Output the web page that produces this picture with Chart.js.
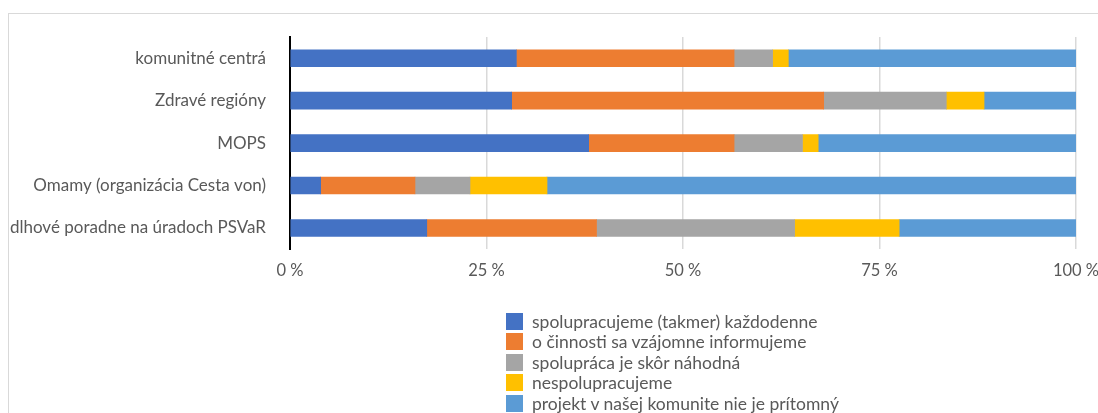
<!DOCTYPE html>
<html>
<head>
<meta charset="utf-8">
<script src="https://cdn.jsdelivr.net/npm/chart.js@4"></script>
<style>
  body { margin: 0; background: #fff; overflow: hidden; }
  #frame { position: absolute; left: 8px; top: 13px; width: 1200px; height: 500px; border-left: 1px solid #d9d9d9; border-top: 1px solid #d9d9d9; }
  #wrap { position: absolute; left: 0; top: 0; width: 1120px; height: 413px; }
  #legend { position: absolute; left: 506px; top: 311px; font-family: Lato, sans-serif; font-size: 17.5px; color: #595959; }
  .item { height: 20.5px; display: flex; align-items: center; white-space: nowrap; }
  .box { width: 17px; height: 17px; margin-right: 9px; }
</style>
</head>
<body>
<div id="frame"></div>
<div id="wrap"><canvas id="myChart"></canvas></div>
<div id="legend"></div>
<script>
const categories = ["komunitné centrá", "Zdravé regióny", "MOPS", "Omamy (organizácia Cesta von)", "dlhové poradne na úradoch PSVaR"];
const seriesNames = ["spolupracujeme (takmer) každodenne", "o činnosti sa vzájomne informujeme", "spolupráca je skôr náhodná", "nespolupracujeme", "projekt v našej komunite nie je prítomný"];
const dailyValues = [28.8, 28.2, 38.0, 3.9, 17.4];
const informValues = [27.7, 39.7, 18.5, 12.0, 21.6];
const randomValues = [4.9, 15.6, 8.7, 7.0, 25.2];
const noneValues = [2.0, 4.8, 2.0, 9.8, 13.3];
const absentValues = [36.6, 11.7, 32.8, 67.3, 22.5];
const tickValues = [0, 25, 50, 75, 100];
const colors = ["#4472C4", "#ED7D31", "#A5A5A5", "#FFC000", "#5B9BD5"];

const allValues = [dailyValues, informValues, randomValues, noneValues, absentValues];
const datasets = [];
for (let i = 0; i < seriesNames.length; i++) {
    datasets.push({
        label: seriesNames[i],
        data: allValues[i],
        backgroundColor: colors[i],
        borderWidth: 0,
        barThickness: 17
    });
}

// legend in one column, built from the datasets
const legend = document.getElementById("legend");
for (let i = 0; i < datasets.length; i++) {
    let skeleton = "<div class='item'>";
    skeleton += "<div class='box' style='background:" + datasets[i].backgroundColor + "'></div>";
    skeleton += "<span>" + datasets[i].label + "</span>";
    skeleton += "</div>";
    legend.innerHTML += skeleton;
}

const textColor = "#595959";
const myChart = new Chart("myChart", {
    type: "bar",
    data: {
        labels: categories,
        datasets: datasets
    },
    options: {
        indexAxis: "y",
        responsive: true,
        maintainAspectRatio: false,
        animation: false,
        layout: { padding: { top: 37, right: 44, left: 0, bottom: 120 } },
        plugins: {
            legend: { display: false },
            tooltip: { enabled: false }
        },
        scales: {
            x: {
                stacked: true,
                min: 0,
                max: 100,
                afterBuildTicks: scale => { scale.ticks = tickValues.map(v => ({ value: v })); },
                ticks: {
                    padding: 12,
                    color: textColor,
                    font: { family: "Lato", size: 16.5 },
                    callback: v => v + " %"
                },
                grid: { color: "#d9d9d9", lineWidth: 1.5, drawTicks: false },
                border: { display: false }
            },
            y: {
                stacked: true,
                afterFit: scale => { scale.width = 290; },
                ticks: {
                    padding: 24,
                    color: textColor,
                    font: { family: "Lato", size: 17 }
                },
                grid: { display: false, drawTicks: false },
                border: { color: "#000", width: 2 }
            }
        }
    }
});
</script>
</body>
</html>
